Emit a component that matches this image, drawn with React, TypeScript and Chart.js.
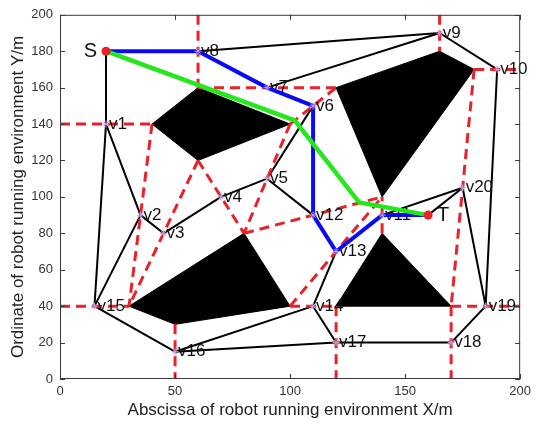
import { useEffect, useRef } from 'react';
import { Chart, registerables } from 'chart.js';

Chart.register(...registerables);

// Nodes: start S, MAKLINK midpoints v1..v20, target T
const nodeNames = ['S', 'v1', 'v2', 'v3', 'v4', 'v5', 'v6', 'v7', 'v8', 'v9', 'v10', 'v11', 'v12', 'v13', 'v14', 'v15', 'v16', 'v17', 'v18', 'v19', 'v20', 'T'];
const nodeX = [20, 20, 35, 45, 70, 90, 110, 90, 60, 165, 190, 140, 110, 120, 110, 15, 50, 120, 170, 185, 175, 160];
const nodeY = [180, 140, 90, 80, 100, 110, 150, 160, 180, 190, 170, 90, 90, 70, 40, 40, 15, 20, 20, 40, 105, 90];

// Free-space graph edges (black)
const edgeFrom = ['S', 'S', 'v8', 'v8', 'v9', 'v10', 'v19', 'v18', 'v17', 'v16', 'v15', 'v1', 'v2', 'v2', 'v3', 'v4', 'v5', 'v6', 'v7', 'v5', 'v16', 'v14', 'v14', 'v6', 'v12', 'v13', 'v11', 'T', 'v20', 'v11'];
const edgeTo = ['v1', 'v8', 'v9', 'v7', 'v10', 'v19', 'v18', 'v17', 'v16', 'v15', 'v1', 'v2', 'v15', 'v3', 'v4', 'v5', 'v6', 'v7', 'v9', 'v12', 'v14', 'v17', 'v13', 'v12', 'v13', 'v11', 'v20', 'v20', 'v19', 'T'];

// MAKLINK lines (red dashed)
const linkX1 = [0, 60, 60, 40, 60, 60, 100, 100, 80, 100, 140, 180, 165, 180, 0, 50, 100, 120, 170, 170];
const linkY1 = [140, 200, 160, 140, 120, 120, 140, 140, 80, 40, 80, 170, 200, 170, 40, 30, 40, 40, 40, 40];
const linkX2 = [40, 60, 120, 30, 30, 80, 80, 120, 140, 140, 140, 170, 165, 200, 30, 50, 120, 120, 170, 200];
const linkY2 = [140, 160, 160, 40, 40, 80, 80, 160, 100, 100, 100, 40, 180, 170, 40, 0, 40, 0, 0, 40];

// Obstacles (black polygons)
const obstacleX = [
  [40, 60, 100, 60],
  [30, 80, 100, 50],
  [120, 140, 170],
  [120, 165, 180, 140],
];
const obstacleY = [
  [140, 160, 140, 120],
  [40, 80, 40, 30],
  [40, 80, 40],
  [160, 180, 170, 100],
];

// Paths
const bluePath = ['S', 'v8', 'v7', 'v6', 'v12', 'v13', 'v11', 'T'];
const greenX = [20, 102, 130, 160];
const greenY = [180, 142, 97, 90];

const xTicks = [0, 50, 100, 150, 200];
const yTicks = [0, 20, 40, 60, 80, 100, 120, 140, 160, 180, 200];

const FONT = "'Liberation Sans', Arial, Helvetica, sans-serif";

function pt(name: string) {
  const i = nodeNames.indexOf(name);
  return { x: nodeX[i], y: nodeY[i] };
}

export default function App() {
  const ref = useRef<HTMLCanvasElement | null>(null);

  useEffect(() => {
    if (!ref.current) return;
    const datasets: any[] = [];

    obstacleX.forEach((xs, k) => {
      const data = xs.map((x, i) => ({ x, y: obstacleY[k][i] }));
      data.push({ x: xs[0], y: obstacleY[k][0] });
      datasets.push({
        label: 'obstacle' + k,
        data,
        showLine: true,
        fill: 'shape',
        backgroundColor: '#000',
        borderColor: '#000',
        borderWidth: 1,
        pointRadius: 0,
        order: 50,
      });
    });

    edgeFrom.forEach((f, i) => {
      datasets.push({
        label: 'edge' + i,
        data: [pt(f), pt(edgeTo[i])],
        showLine: true,
        borderColor: '#000',
        borderWidth: 2,
        pointRadius: 0,
        order: 40,
      });
    });

    linkX1.forEach((x1, i) => {
      datasets.push({
        label: 'link' + i,
        data: [{ x: x1, y: linkY1[i] }, { x: linkX2[i], y: linkY2[i] }],
        showLine: true,
        borderColor: '#e8212a',
        borderWidth: 3,
        borderDash: [10, 6],
        pointRadius: 0,
        order: 30,
      });
    });

    datasets.push({
      label: 'bluePath',
      data: bluePath.map(pt),
      showLine: true,
      borderColor: '#0a0af5',
      borderWidth: 4,
      borderJoinStyle: 'round',
      pointRadius: 0,
      order: 20,
    });

    datasets.push({
      label: 'greenPath',
      data: greenX.map((x, i) => ({ x, y: greenY[i] })),
      showLine: true,
      borderColor: '#24e81c',
      borderWidth: 4.5,
      borderJoinStyle: 'round',
      pointRadius: 0,
      order: 10,
    });

    datasets.push({
      label: 'vertices',
      data: nodeNames.slice(1, 21).map(pt),
      showLine: false,
      pointStyle: 'star',
      pointRadius: 3.5,
      borderColor: '#c49ad8',
      backgroundColor: '#c49ad8',
      borderWidth: 1,
      order: 5,
    });

    datasets.push({
      label: 'endpoints',
      data: [pt('S'), pt('T')],
      showLine: false,
      pointStyle: 'circle',
      pointRadius: 4.5,
      borderColor: '#e8212a',
      backgroundColor: '#e8212a',
      borderWidth: 0,
      order: 1,
    });

    const labelPlugin = {
      id: 'vlabels',
      beforeDatasetDraw(chart: any, args: any) {
        const ds = chart.data.datasets[args.index];
        if (ds.label !== 'bluePath') return;
        const { ctx } = chart;
        const x = chart.scales.x;
        const y = chart.scales.y;
        ctx.save();
        ctx.fillStyle = '#111';
        ctx.textBaseline = 'middle';
        ctx.textAlign = 'left';
        ctx.font = `17px ${FONT}`;
        nodeNames.forEach((n, i) => {
          if (n === 'S' || n === 'T') return;
          ctx.fillText(n, x.getPixelForValue(nodeX[i]) + 3, y.getPixelForValue(nodeY[i]));
        });
        ctx.font = `20px ${FONT}`;
        const s = pt('S');
        ctx.textAlign = 'right';
        ctx.fillText('S', x.getPixelForValue(s.x) - 9, y.getPixelForValue(s.y));
        const t = pt('T');
        ctx.textAlign = 'left';
        ctx.fillText('T', x.getPixelForValue(t.x) + 9, y.getPixelForValue(t.y));
        ctx.restore();
      },
    };

    const framePlugin = {
      id: 'frame',
      afterDatasetsDraw(chart: any) {
        const { ctx, chartArea: a, scales } = chart;
        ctx.save();
        ctx.strokeStyle = '#3a3a3a';
        ctx.lineWidth = 1;
        ctx.strokeRect(a.left + 0.5, a.top + 0.5, a.right - a.left - 1, a.bottom - a.top - 1);
        const tl = 5;
        ctx.beginPath();
        xTicks.forEach((v) => {
          const px = Math.round(scales.x.getPixelForValue(v)) + 0.5;
          ctx.moveTo(px, a.bottom);
          ctx.lineTo(px, a.bottom - tl);
          ctx.moveTo(px, a.top);
          ctx.lineTo(px, a.top + tl);
        });
        yTicks.forEach((v) => {
          const py = Math.round(scales.y.getPixelForValue(v)) + 0.5;
          ctx.moveTo(a.left, py);
          ctx.lineTo(a.left + tl, py);
          ctx.moveTo(a.right, py);
          ctx.lineTo(a.right - tl, py);
        });
        ctx.stroke();
        ctx.restore();
      },
    };

    const chart = new Chart(ref.current, {
      type: 'scatter',
      data: { datasets },
      options: {
        animation: false,
        responsive: false,
        devicePixelRatio: 1,
        layout: { padding: { top: 11, right: 12, left: 0, bottom: 0 } },
        plugins: {
          legend: { display: false },
          tooltip: { enabled: false },
        },
        scales: {
          x: {
            type: 'linear',
            min: 0,
            max: 200,
            afterBuildTicks: (s: any) => {
              s.ticks = xTicks.map((v) => ({ value: v }));
            },
            afterFit: (s: any) => {
              s.height = 50;
            },
            ticks: { font: { size: 13, family: FONT }, color: '#333', padding: 5, maxRotation: 0 },
            grid: { drawOnChartArea: false, drawTicks: false },
            border: { display: false },
            title: {
              display: true,
              text: 'Abscissa of robot running environment X/m',
              font: { size: 17, family: FONT },
              color: '#222',
              padding: { top: 0, bottom: 8 },
            },
          },
          y: {
            type: 'linear',
            min: 0,
            max: 200,
            afterBuildTicks: (s: any) => {
              s.ticks = yTicks.map((v) => ({ value: v }));
            },
            afterFit: (s: any) => {
              s.width = 60;
            },
            ticks: { font: { size: 13, family: FONT }, color: '#333', padding: 7 },
            grid: { drawOnChartArea: false, drawTicks: false },
            border: { display: false },
            title: {
              display: true,
              text: 'Ordinate of robot running environment Y/m',
              font: { size: 17, family: FONT },
              color: '#222',
              padding: { top: 8, bottom: 0 },
            },
          },
        },
      },
      plugins: [labelPlugin, framePlugin],
    });

    return () => chart.destroy();
  }, []);

  return (
    <div style={{ position: 'absolute', left: 0, top: 0, width: 536, height: 429, background: '#fff' }}>
      <canvas ref={ref} width={536} height={429} />
    </div>
  );
}
